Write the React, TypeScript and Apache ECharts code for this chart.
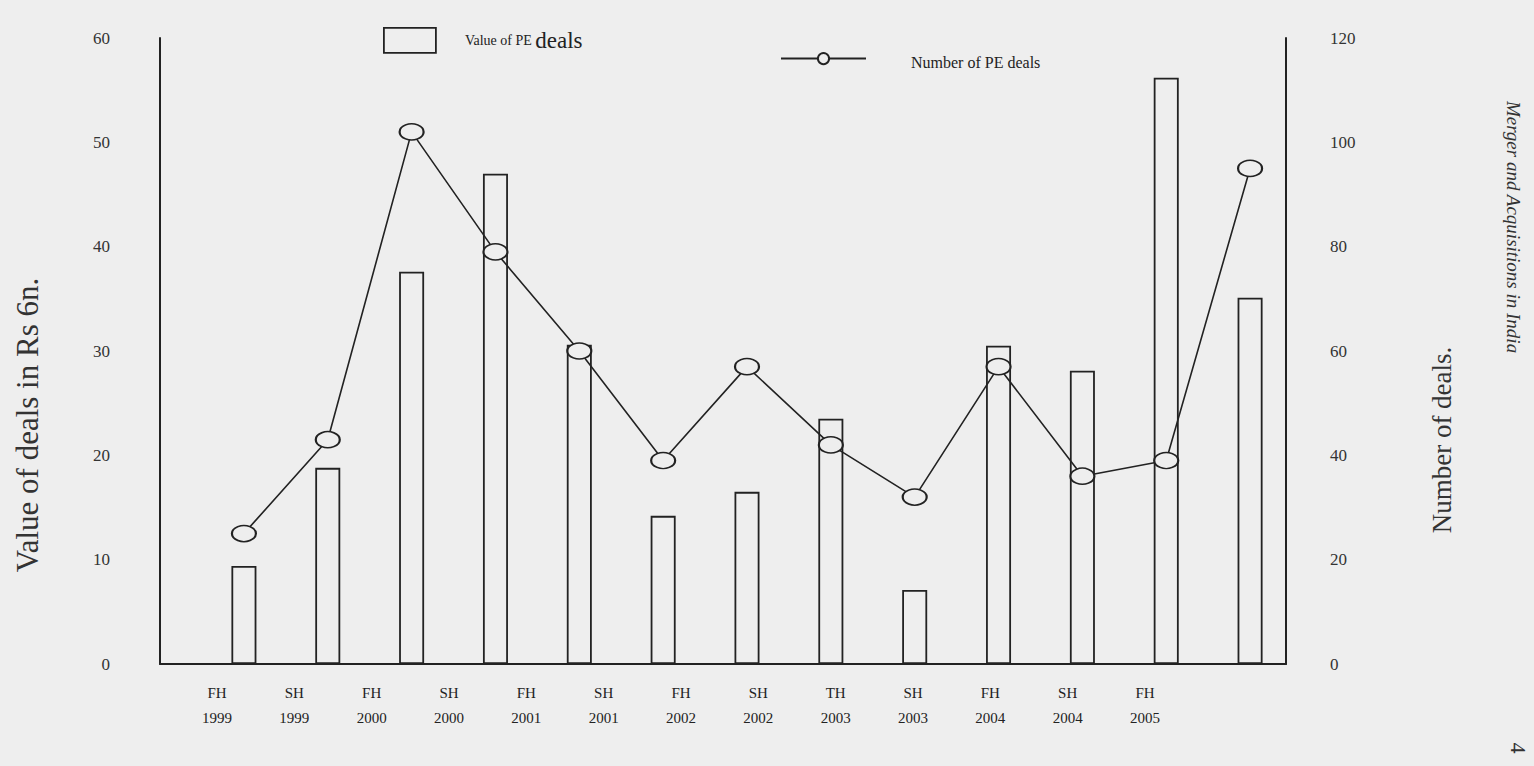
import React, { useEffect, useRef } from "react";
import * as echarts from "echarts";

const periods = [
  "FH\n1999", "SH\n1999", "FH\n2000", "SH\n2000", "FH\n2001", "SH\n2001", "FH\n2002",
  "SH\n2002", "TH\n2003", "SH\n2003", "FH\n2004", "SH\n2004", "FH\n2005",
];
const dealValues = [9.4, 18.8, 37.6, 47, 30.6, 14.2, 16.5, 23.5, 7.1, 30.5, 28.1, 56.2, 35.1];
const dealCounts = [25, 43, 102, 79, 60, 39, 57, 42, 32, 57, 36, 39, 95];
const valueName = "Value of PE deals";
const countName = "Number of PE deals";

const SERIF = "'Liberation Serif', 'DejaVu Serif', serif";
const INK = "#222";
const PAPER = "#eeeeee";

export default function App() {
  const ref = useRef<HTMLDivElement>(null);
  useEffect(() => {
    const chart = echarts.init(ref.current!, null, { renderer: "svg" });
    chart.setOption({
      animation: false,
      backgroundColor: PAPER,
      textStyle: { fontFamily: SERIF, color: INK },
      grid: [
        { left: 202, right: 242, top: 38, bottom: 102 },
        { left: 160, right: 248, top: 38, bottom: 102 },
        { left: 217, right: 389, top: 38, bottom: 104 },
      ],
      legend: [
        {
          data: [valueName],
          left: 378,
          top: 22,
          itemWidth: 52,
          itemHeight: 25,
          icon: "rect",
          itemStyle: { color: "rgba(0,0,0,0)", borderColor: INK, borderWidth: 1.8 },
          formatter: () => "{p| }{a|Value of PE }{b|deals}",
          textStyle: {
            fontFamily: SERIF,
            color: INK,
            rich: {
              p: { width: 24 },
              a: { fontSize: 14, fontFamily: SERIF, color: INK },
              b: { fontSize: 23, fontFamily: SERIF, color: INK },
            },
          },
          selectedMode: false,
        },
        {
          data: [countName],
          left: 775,
          top: 47,
          itemWidth: 85,
          itemHeight: 14,
          formatter: () => "{p| }{t|Number of PE deals}",
          textStyle: {
            fontFamily: SERIF,
            color: INK,
            rich: {
              p: { width: 40 },
              t: { fontSize: 16, fontFamily: SERIF, color: INK, padding: [8, 0, 0, 0] },
            },
          },
          selectedMode: false,
        },
      ],
      xAxis: [
        {
          type: "category",
          gridIndex: 0,
          data: periods,
          boundaryGap: true,
          axisLine: { show: false },
          axisTick: { show: false },
          axisLabel: { show: false },
        },
        {
          type: "category",
          gridIndex: 1,
          data: [""],
          axisLine: { show: true, lineStyle: { color: INK, width: 2 } },
          axisTick: { show: false },
          axisLabel: { show: false },
        },
        {
          type: "category",
          gridIndex: 2,
          data: periods,
          boundaryGap: false,
          axisLine: { show: false },
          axisTick: { show: false },
          axisLabel: {
            show: true,
            interval: 0,
            margin: 18,
            fontSize: 15,
            lineHeight: 25,
            fontFamily: SERIF,
            color: INK,
          },
        },
      ],
      yAxis: [
        {
          type: "value",
          gridIndex: 0,
          position: "left",
          offset: 42,
          min: 0,
          max: 60,
          interval: 10,
          splitLine: { show: false },
          axisTick: { show: false },
          axisLine: { show: true, lineStyle: { color: INK, width: 2 } },
          axisLabel: { margin: 50, fontSize: 17, fontFamily: SERIF, color: "#333" },
        },
        {
          type: "value",
          gridIndex: 0,
          position: "right",
          offset: -6,
          min: 0,
          max: 120,
          interval: 20,
          splitLine: { show: false },
          axisTick: { show: false },
          axisLine: { show: true, lineStyle: { color: INK, width: 2 } },
          axisLabel: { margin: 44, fontSize: 17, fontFamily: SERIF, color: "#333" },
        },
        { type: "value", gridIndex: 1, show: false },
        { type: "value", gridIndex: 2, show: false },
      ],
      series: [
        {
          name: valueName,
          type: "bar",
          xAxisIndex: 0,
          yAxisIndex: 0,
          data: dealValues,
          barWidth: 25,
          itemStyle: { color: "rgba(0,0,0,0)", borderColor: INK, borderWidth: 1.8 },
          z: 2,
        },
        {
          name: countName,
          type: "line",
          xAxisIndex: 0,
          yAxisIndex: 1,
          data: dealCounts,
          symbol: "circle",
          symbolSize: [24, 16],
          lineStyle: { color: INK, width: 1.6 },
          itemStyle: { color: PAPER, borderColor: INK, borderWidth: 1.8 },
          z: 3,
        },
      ],
      graphic: [
        {
          type: "text",
          x: 27,
          y: 425,
          rotation: Math.PI / 2,
          style: {
            text: "Value of deals in Rs 6n.",
            font: `31px ${SERIF}`,
            fill: "#333",
            align: "center",
            verticalAlign: "middle",
          },
        },
        {
          type: "text",
          x: 1442,
          y: 440,
          rotation: Math.PI / 2,
          style: {
            text: "Number of deals.",
            font: `27px ${SERIF}`,
            fill: "#333",
            align: "center",
            verticalAlign: "middle",
          },
        },
        {
          type: "text",
          x: 1513,
          y: 227,
          rotation: -Math.PI / 2,
          style: {
            text: "Merger and Acquisitions in India",
            font: `italic 19px ${SERIF}`,
            fill: "#333",
            align: "center",
            verticalAlign: "middle",
          },
        },
        {
          type: "text",
          x: 1518,
          y: 748,
          rotation: -Math.PI / 2,
          style: {
            text: "4",
            font: `22px ${SERIF}`,
            fill: "#333",
            align: "center",
            verticalAlign: "middle",
          },
        },
      ],
    });
    return () => chart.dispose();
  }, []);
  return (
    <div
      ref={ref}
      style={{ position: "fixed", left: 0, top: 0, width: 1534, height: 766 }}
    />
  );
}
